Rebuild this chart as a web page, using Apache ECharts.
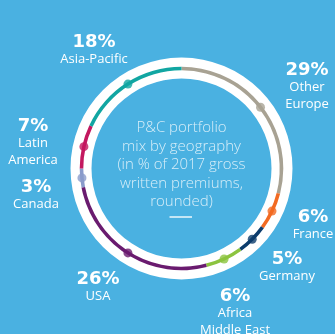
<!DOCTYPE html>
<html>
<head>
<meta charset="utf-8">
<style>
  html, body { margin: 0; padding: 0; background: #4AB1E1; }
  #chart { width: 335px; height: 334px; }
</style>
<script src="https://cdn.jsdelivr.net/npm/echarts@6/dist/echarts.min.js"></script>
</head>
<body>
<div id="chart"></div>
<script>
// P&C portfolio mix by geography, clockwise from 12 o'clock
const regions = ['Other\nEurope', 'France', 'Germany', 'Africa\nMiddle East', 'USA', 'Canada', 'Latin\nAmerica', 'Asia-Pacific'];
const shares = [29, 6, 5, 6, 26, 3, 7, 18];
const regionColors = ['#A8A293', '#F26A22', '#0C3C6C', '#8CC43F', '#6A1B6F', '#8A9BCB', '#C3185F', '#11A6A2'];
const centreLines = ['P&C portfolio', 'mix by geography', '(in % of 2017 gross', 'written premiums,', 'rounded)'];

// layout
const CX = 181.5, CY = 168.5;
const labelSpots = [
  [307, 70], [313, 217], [287, 259], [235, 296],
  [98, 279], [36, 187], [33, 126], [94, 42]
];

// midpoint of each arc, in percent of the full turn
const mids = [];
let acc = 0;
shares.forEach(v => { mids.push(acc + v / 2); acc += v; });

const chart = echarts.init(document.getElementById('chart'), null, { renderer: 'canvas' });

const labelTexts = regions.map((name, i) => ({
  type: 'text',
  silent: true,
  style: {
    x: labelSpots[i][0],
    y: labelSpots[i][1] - 9.5,
    text: '{v|' + shares[i] + '%}\n' + name.split('\n').map(s => '{n|' + s + '}').join('\n'),
    align: 'center',
    verticalAlign: 'top',
    rich: {
      v: { fontFamily: 'DejaVu Sans', fontWeight: 'bold', fontSize: 18, lineHeight: 19, fill: '#ffffff', align: 'center' },
      n: { fontFamily: 'Open Sans', fontSize: 13, lineHeight: 16.5, fill: '#ffffff', align: 'center' }
    }
  }
}));

chart.setOption({
  backgroundColor: '#4AB1E1',
  animation: false,
  polar: { center: [CX, CY], radius: 100 },
  angleAxis: { type: 'value', min: 0, max: 100, startAngle: 90, clockwise: true, show: false },
  radiusAxis: { type: 'value', min: 0, max: 1, show: false },
  series: [
    {
      type: 'pie',
      silent: true,
      center: [CX, CY],
      radius: [90, 111],
      label: { show: false },
      labelLine: { show: false },
      itemStyle: { color: '#ffffff' },
      data: [{ value: 1 }]
    },
    {
      type: 'pie',
      silent: true,
      center: [CX, CY],
      radius: [98.2, 101.8],
      startAngle: 90,
      clockwise: true,
      label: { show: false },
      labelLine: { show: false },
      itemStyle: { borderWidth: 0 },
      data: shares.map((v, i) => ({ value: v, name: regions[i], itemStyle: { color: regionColors[i] } }))
    },
    {
      type: 'scatter',
      coordinateSystem: 'polar',
      silent: true,
      symbol: 'circle',
      symbolSize: 9,
      data: mids.map((m, i) => ({ value: [1, m], itemStyle: { color: regionColors[i] } }))
    }
  ],
  graphic: [
    {
      type: 'text',
      silent: true,
      style: {
        x: CX,
        y: 128 - 9.25,
        text: centreLines.join('\n'),
        align: 'center',
        verticalAlign: 'top',
        fontFamily: 'Open Sans',
        fontWeight: 300,
        fontSize: 15,
        lineHeight: 18.5,
        fill: 'rgba(255,255,255,0.78)'
      }
    },
    {
      type: 'line',
      silent: true,
      shape: { x1: 169.5, y1: 217, x2: 192, y2: 217 },
      style: { stroke: 'rgba(255,255,255,0.9)', lineWidth: 1.5 }
    }
  ].concat(labelTexts)
});
</script>
</body>
</html>
